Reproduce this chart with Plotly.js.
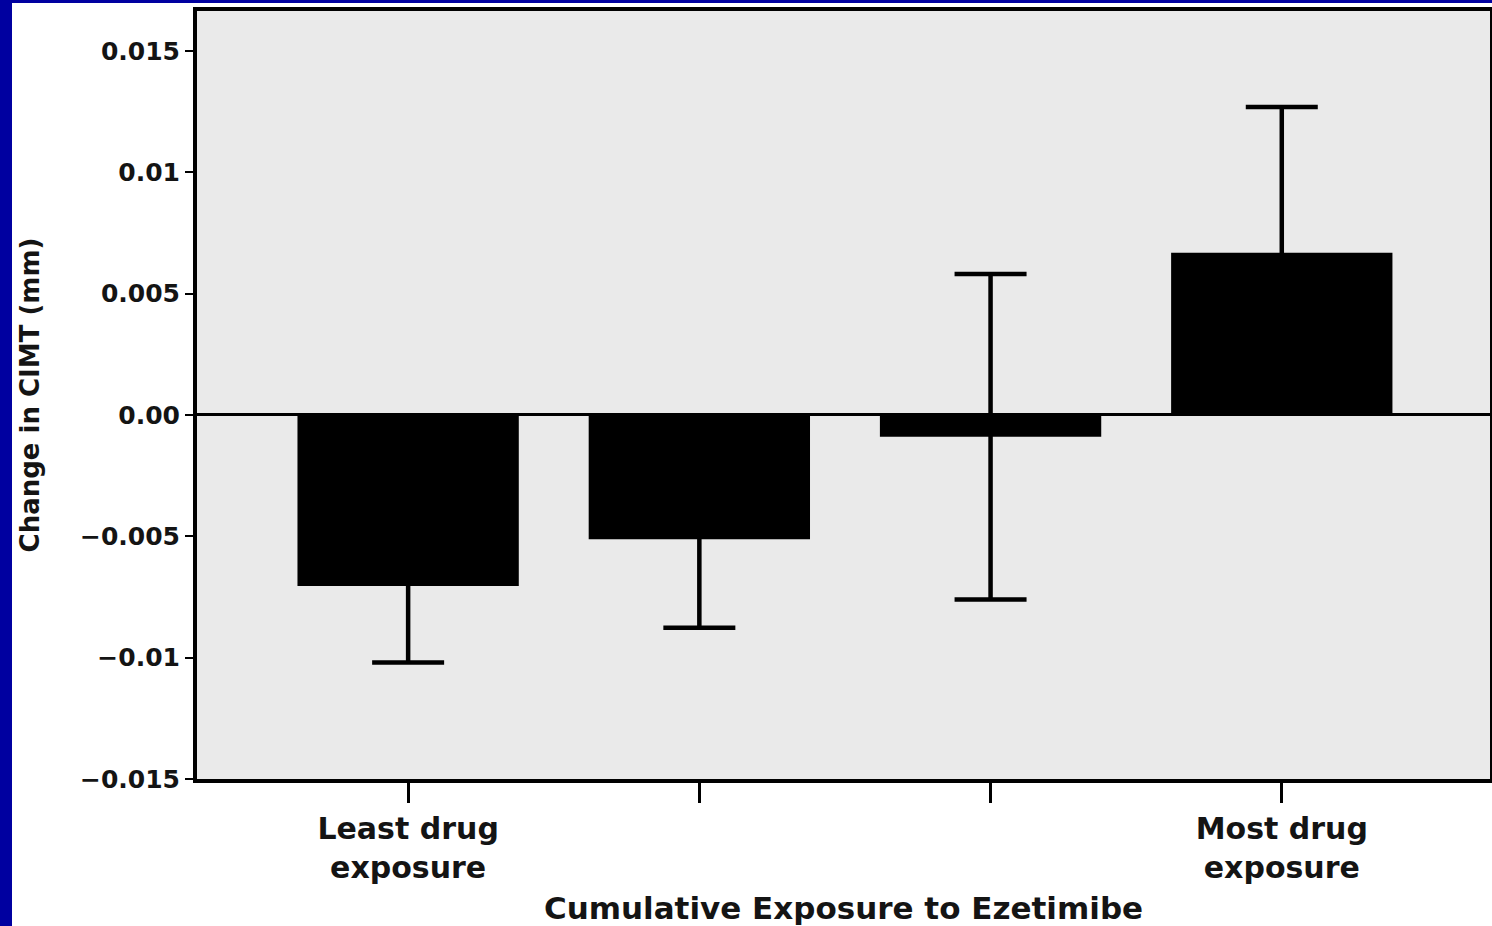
<!DOCTYPE html>
<html>
<head>
<meta charset="utf-8">
<script src="https://cdn.plot.ly/plotly-3.0.1.min.js"></script>
<style>
html, body { margin:0; padding:0; width:1492px; height:926px; background:#0000a0; overflow:hidden; }
#chart { position:absolute; left:12px; top:3px; width:1480px; height:923px; background:#fff; }
</style>
</head>
<body>
<div id="chart"></div>
<script>
// Data
const categories = [0, 1, 2, 3];
const categoryLabels = ["Least drug<br>exposure", "", "", "Most drug<br>exposure"];
const changeCIMT = [-0.00705, -0.00512, -0.0009, 0.00668];
const errorCIMT = [0.00315, 0.00365, 0.0067, 0.006];
const yTickVals = [0.015, 0.01, 0.005, 0, -0.005, -0.01, -0.015];
const yTickText = ["0.015", "0.01", "0.005", "0.00", "\u22120.005", "\u22120.01", "\u22120.015"];

const FONT = "DejaVu Sans, Verdana, sans-serif";

const trace = {
  type: "bar",
  x: categories,
  y: changeCIMT,
  width: 0.76,
  marker: { color: "#000000", line: { width: 0 } },
  error_y: { type: "data", array: errorCIMT, visible: true, color: "#000000", thickness: 4.5, width: 36 },
  hoverinfo: "skip"
};

const layout = {
  width: 1480,
  height: 923,
  margin: { l: 185, r: 2, t: 8, b: 147 },
  paper_bgcolor: "#ffffff",
  plot_bgcolor: "#eaeaea",
  showlegend: false,
  font: { family: FONT, color: "#141414" },
  xaxis: {
    range: [-0.725, 3.715],
    tickvals: categories,
    ticktext: categoryLabels,
    showgrid: false,
    zeroline: false,
    showline: true,
    mirror: true,
    linecolor: "#000",
    linewidth: 4,
    ticks: "outside",
    ticklen: 20,
    tickwidth: 3,
    tickcolor: "#000",
    tickfont: { family: FONT, size: 30, color: "#141414", weight: "bold" },
    title: { text: "<b>Cumulative Exposure to Ezetimibe</b>", font: { family: FONT, size: 31, color: "#141414" }, standoff: 18 }
  },
  yaxis: {
    range: [-0.015, 0.01664],
    tickvals: yTickVals,
    ticktext: yTickText,
    showgrid: false,
    zeroline: true,
    zerolinecolor: "#000",
    zerolinewidth: 3,
    showline: true,
    mirror: true,
    linecolor: "#000",
    linewidth: 4,
    ticks: "outside",
    ticklen: 8,
    tickwidth: 2,
    tickcolor: "#000",
    tickfont: { family: FONT, size: 25, color: "#141414", weight: "bold" },
    title: { text: "<b>Change in CIMT (mm)</b>", font: { family: FONT, size: 26, color: "#141414" }, standoff: 34 }
  }
};

Plotly.newPlot("chart", [trace], layout, { staticPlot: true, displayModeBar: false });
</script>
</body>
</html>
